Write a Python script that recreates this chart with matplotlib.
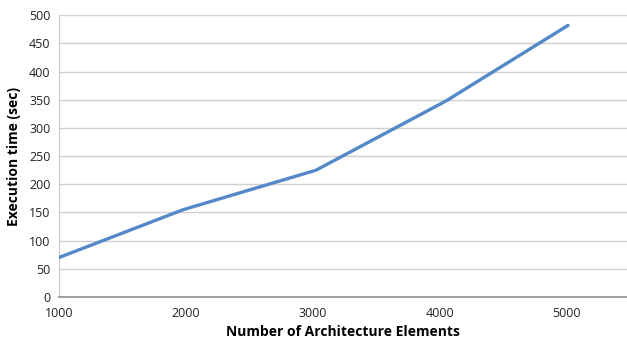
import matplotlib.pyplot as plt

# execution time measured for growing architecture models
elements = [1000, 1980, 3025, 4050, 5010]
exec_time = [70, 155, 225, 348, 482]
y_ticks = list(range(0, 501, 50))
x_ticks = [1000, 2000, 3000, 4000, 5000]


def main():
    plt.rcParams['font.family'] = ['Open Sans', 'DejaVu Sans']
    fig = plt.figure(figsize=(6.27, 3.39), dpi=100)
    ax = fig.add_axes([0.094, 0.124, 0.906, 0.831])

    ax.plot(elements, exec_time, color='#5389c8', linewidth=2.4,
            solid_capstyle='round', solid_joinstyle='round', zorder=3)

    ax.set_xlim(1000, 5475)
    ax.set_ylim(0, 500)
    ax.set_xticks(x_ticks)
    ax.set_yticks(y_ticks)
    ax.grid(axis='y', color='#d0d0d0', linewidth=1.0)
    ax.set_axisbelow(True)

    for side in ('top', 'right'):
        ax.spines[side].set_visible(False)
    ax.spines['left'].set_color('#c8c8c8')
    ax.spines['bottom'].set_color('#909090')
    ax.spines['bottom'].set_linewidth(1.2)
    ax.tick_params(length=0, labelsize=9, colors='#222222', pad=6)
    ax.tick_params(axis='x', pad=7)

    ax.set_xlabel('Number of Architecture Elements', fontsize=10,
                  fontweight='bold', labelpad=4)
    ax.set_ylabel('Execution time (sec)', fontsize=10, fontweight='bold',
                  labelpad=6)

    fig.savefig('out.png', dpi=100)


if __name__ == '__main__':
    main()
